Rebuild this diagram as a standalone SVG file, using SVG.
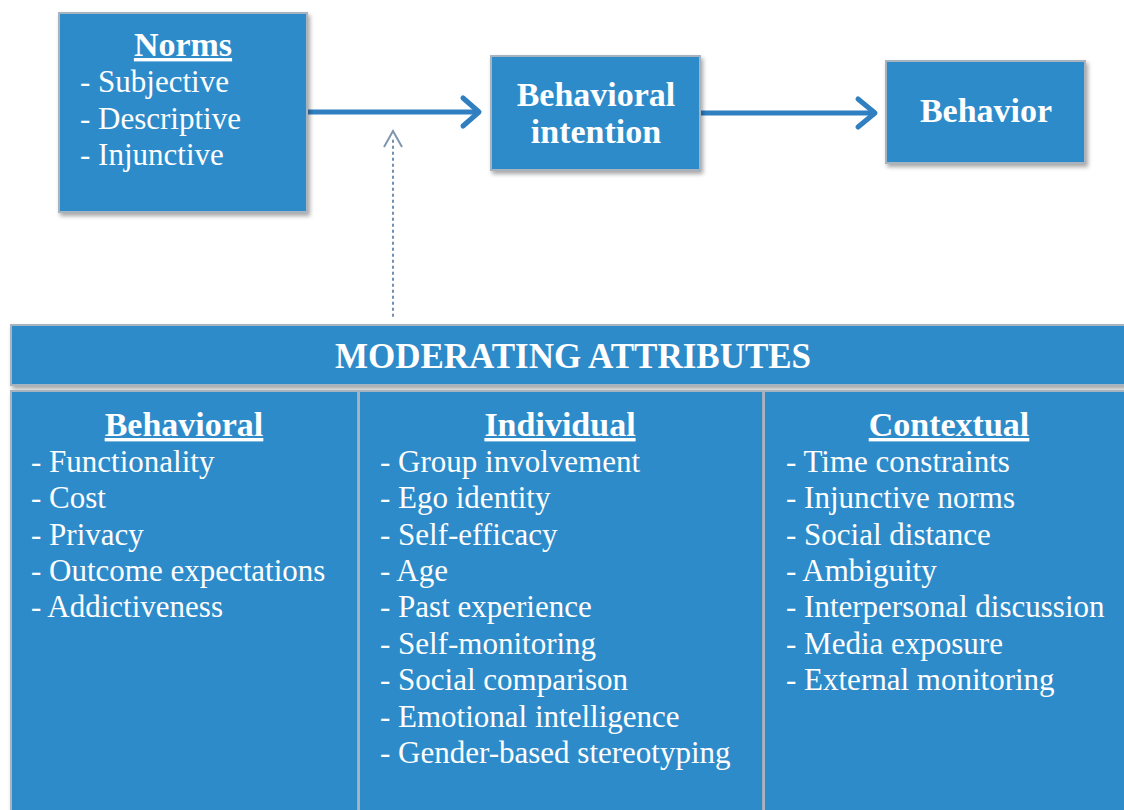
<svg xmlns="http://www.w3.org/2000/svg" width="1124" height="810" viewBox="0 0 1124 810">
<defs>
<filter id="sh" x="-10%" y="-10%" width="130%" height="130%">
<feDropShadow dx="2" dy="3" stdDeviation="2" flood-color="#000" flood-opacity="0.35"/>
</filter>
<style>
.box{fill:#2e8bca;stroke:#a7b4c0;stroke-width:2;filter:url(#sh)}
.t{font-family:"Liberation Serif","Times New Roman",serif;fill:#fff}
.h{font-weight:bold;font-size:34px;text-anchor:middle}
.m{font-size:35px}
.u{text-decoration:underline}
.i{font-size:31px}
.arr{stroke:#2f7fc1;stroke-width:5;fill:none;stroke-linecap:round;stroke-linejoin:round}
</style>
</defs>
<rect width="1124" height="810" fill="#fff"/>
<g id="connectors">
<line class="arr" x1="308" y1="112" x2="478" y2="112"/>
<polyline class="arr" points="463,98 479,112 463,126"/>
<line class="arr" x1="701" y1="113" x2="874" y2="113"/>
<polyline class="arr" points="858,99 875,113 858,127"/>
<line x1="393" y1="316" x2="393" y2="137" stroke="#6f8fb0" stroke-width="2" stroke-dasharray="1.5 4.5" stroke-linecap="round"/>
<polyline points="384,147 393,131 402,147" fill="none" stroke="#7d96ae" stroke-width="2"/>
</g>
<g id="norms">
<rect class="box" x="59" y="13" width="248" height="199"/>
<text class="t h u" x="183" y="56">Norms</text>
<text class="t i" x="80" y="92">- Subjective</text>
<text class="t i" x="80" y="129">- Descriptive</text>
<text class="t i" x="80" y="165">- Injunctive</text>
</g>
<g id="intention">
<rect class="box" x="491" y="56" width="209" height="114"/>
<text class="t h" x="596" y="106">Behavioral</text>
<text class="t h" x="596" y="143">intention</text>
</g>
<g id="behavior">
<rect class="box" x="886" y="61" width="199" height="102"/>
<text class="t h" x="986" y="122">Behavior</text>
</g>
<g id="moderating">
<rect class="box" x="11" y="325" width="1120" height="60"/>
<text class="t h m" x="573" y="368">MODERATING ATTRIBUTES</text>
</g>
<g id="behavioral">
<rect class="box" x="11" y="391" width="347" height="425"/>
<text class="t h u" x="184" y="436">Behavioral</text>
<text class="t i" x="31" y="472">- Functionality</text>
<text class="t i" x="31" y="508">- Cost</text>
<text class="t i" x="31" y="545">- Privacy</text>
<text class="t i" x="31" y="581">- Outcome expectations</text>
<text class="t i" x="31" y="617">- Addictiveness</text>
</g>
<g id="individual">
<rect class="box" x="359" y="391" width="404" height="425"/>
<text class="t h u" x="560" y="436">Individual</text>
<text class="t i" x="380" y="472">- Group involvement</text>
<text class="t i" x="380" y="508">- Ego identity</text>
<text class="t i" x="380" y="545">- Self-efficacy</text>
<text class="t i" x="380" y="581">- Age</text>
<text class="t i" x="380" y="617">- Past experience</text>
<text class="t i" x="380" y="654">- Self-monitoring</text>
<text class="t i" x="380" y="690">- Social comparison</text>
<text class="t i" x="380" y="727">- Emotional intelligence</text>
<text class="t i" x="380" y="763">- Gender-based stereotyping</text>
</g>
<g id="contextual">
<rect class="box" x="764" y="391" width="370" height="425"/>
<text class="t h u" x="949" y="436">Contextual</text>
<text class="t i" x="786" y="472">- Time constraints</text>
<text class="t i" x="786" y="508">- Injunctive norms</text>
<text class="t i" x="786" y="545">- Social distance</text>
<text class="t i" x="786" y="581">- Ambiguity</text>
<text class="t i" x="786" y="617">- Interpersonal discussion</text>
<text class="t i" x="786" y="654">- Media exposure</text>
<text class="t i" x="786" y="690">- External monitoring</text>
</g>
</svg>
